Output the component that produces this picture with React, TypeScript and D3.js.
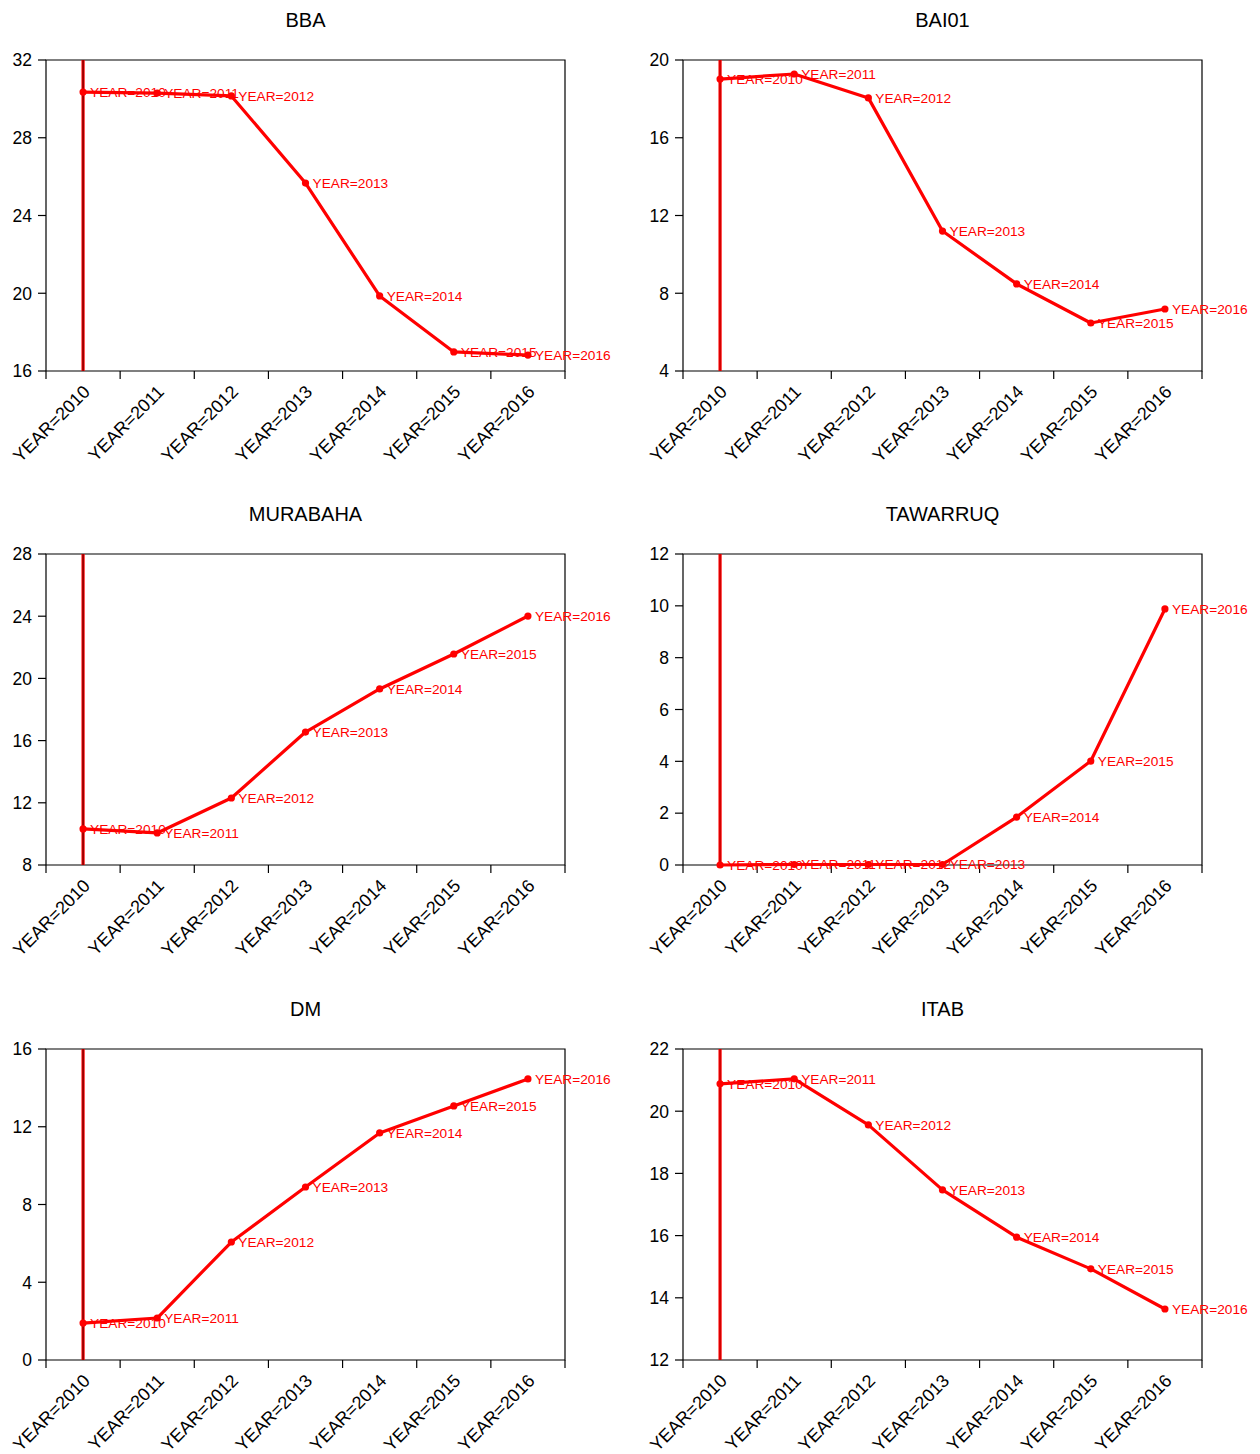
import React from "react";
import * as d3 from "d3";

const years = ["2010", "2011", "2012", "2013", "2014", "2015", "2016"];

const bba = [30.35, 30.3, 30.15, 25.67, 19.86, 16.98, 16.82];
const bai01 = [19.02, 19.28, 18.05, 11.2, 8.48, 6.47, 7.19];
const murabaha = [10.32, 10.06, 12.31, 16.55, 19.32, 21.57, 24.01];
const tawarruq = [0.0, 0.02, 0.02, 0.02, 1.85, 4.01, 9.88];
const dm = [1.9, 2.16, 6.07, 8.9, 11.68, 13.07, 14.46];
const itab = [20.88, 21.04, 19.56, 17.47, 15.95, 14.93, 13.64];

const bbaTicks = [16, 20, 24, 28, 32];
const bai01Ticks = [4, 8, 12, 16, 20];
const murabahaTicks = [8, 12, 16, 20, 24, 28];
const tawarruqTicks = [0, 2, 4, 6, 8, 10, 12];
const dmTicks = [0, 4, 8, 12, 16];
const itabTicks = [12, 14, 16, 18, 20, 22];

const panels = [
  { title: "BBA", values: bba, ticks: bbaTicks },
  { title: "BAI01", values: bai01, ticks: bai01Ticks },
  { title: "MURABAHA", values: murabaha, ticks: murabahaTicks },
  { title: "TAWARRUQ", values: tawarruq, ticks: tawarruqTicks },
  { title: "DM", values: dm, ticks: dmTicks },
  { title: "ITAB", values: itab, ticks: itabTicks },
];

const W = 1260;
const H = 1454;
const colX = [46, 683];
const rowY = [60, 554, 1049];
const pw = 519;
const ph = 311;
const font = "'Liberation Sans', Arial, sans-serif";
const RED = "#ff0000";

function Panel({ p, i }) {
  const col = i % 2;
  const x0 = colX[col];
  const y0 = rowY[Math.floor(i / 2)];
  const x = d3.scaleBand().domain(years).range([x0, x0 + pw]).padding(0);
  const y = d3
    .scaleLinear()
    .domain([p.ticks[0], p.ticks[p.ticks.length - 1]])
    .range([y0 + ph, y0]);
  const cx = (yr) => x(yr) + x.bandwidth() / 2;
  const line = d3
    .line()
    .x((d, k) => cx(years[k]))
    .y((d) => y(d));
  const edges = years.map((yr) => x(yr)).concat([x0 + pw]);
  const yb = y0 + ph;
  const firstX = cx(years[0]);

  return (
    <g>
      <text x={x0 + pw / 2} y={y0 - 33} textAnchor="middle" fontSize={20} fontFamily={font} fill="#000">
        {p.title}
      </text>
      {/* frame */}
      <path d={`M${x0},${yb}V${y0}H${x0 + pw}V${yb}H${x0}`} fill="none" stroke="#000" strokeWidth={1.2} />
      {/* y ticks */}
      {p.ticks.map((t) => (
        <g key={t}>
          <line x1={x0 - 8} x2={x0} y1={y(t)} y2={y(t)} stroke="#000" strokeWidth={1.2} />
          <text x={x0 - 14} y={y(t)} dy="0.36em" textAnchor="end" fontSize={17.5} fontFamily={font} fill="#000">
            {t}
          </text>
        </g>
      ))}
      {/* x ticks */}
      {edges.map((ex, k) => (
        <line key={k} x1={ex} x2={ex} y1={yb} y2={yb + 8} stroke="#000" strokeWidth={1.2} />
      ))}
      {years.map((yr) => (
        <text
          key={yr}
          transform={`translate(${cx(yr) - 1},${yb + 13}) rotate(-45)`}
          textAnchor="end"
          dy="0.7em"
          fontSize={18}
          fontFamily={font}
          fill="#000"
        >
          {"YEAR=" + yr}
        </text>
      ))}
      {/* vertical marker line */}
      <line x1={firstX} x2={firstX} y1={y0} y2={yb} stroke={RED} strokeWidth={3.2} />
      <line x1={firstX} x2={firstX} y1={y0} y2={yb} stroke={col === 0 ? "#500000" : "#b00000"} strokeWidth={1} />
      <path d={line(p.values)} fill="none" stroke={RED} strokeWidth={3.2} strokeLinejoin="round" />
      {p.values.map((v, k) => (
        <circle key={k} cx={cx(years[k])} cy={y(v)} r={3.6} fill={RED} />
      ))}
      {p.values.map((v, k) => (
        <text
          key={"l" + k}
          x={cx(years[k]) + 7}
          y={y(v)}
          dy="0.36em"
          fontSize={13.7}
          fontFamily={font}
          fill={RED}
        >
          {"YEAR=" + years[k]}
        </text>
      ))}
    </g>
  );
}

export default function App() {
  return (
    <div style={{ position: "absolute", left: 0, top: 0 }}>
      <svg width={W} height={H} style={{ display: "block", background: "#fff" }}>
        {panels.map((p, i) => (
          <Panel key={p.title} p={p} i={i} />
        ))}
      </svg>
    </div>
  );
}
